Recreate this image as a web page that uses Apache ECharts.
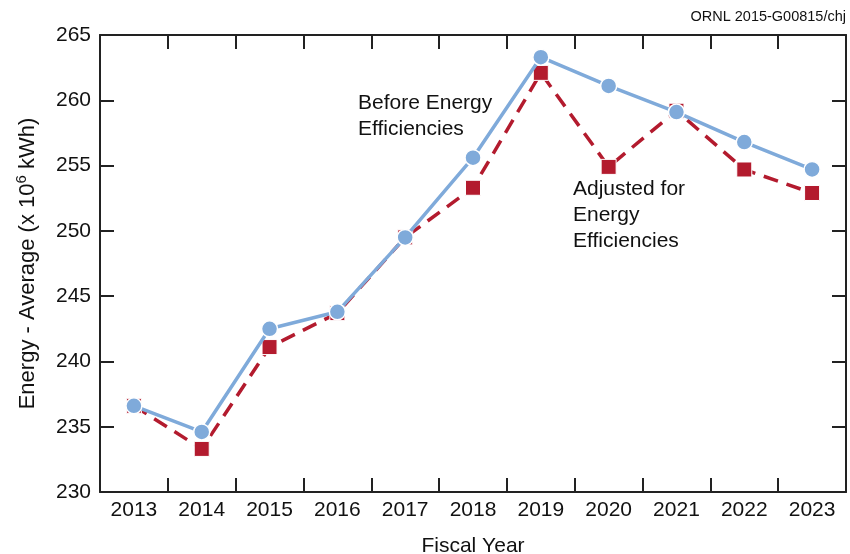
<!DOCTYPE html>
<html>
<head>
<meta charset="utf-8">
<script src="https://cdn.jsdelivr.net/npm/echarts@6/dist/echarts.min.js"></script>
<style>
  html, body { margin: 0; padding: 0; background: #fff; }
  #main { width: 850px; height: 554px; }
</style>
</head>
<body>
<div id="main"></div>
<script>
var years = ['2013', '2014', '2015', '2016', '2017', '2018', '2019', '2020', '2021', '2022', '2023'];
var beforeEff = [236.6, 234.6, 242.5, 243.8, 249.5, 255.6, 263.3, 261.1, 259.1, 256.8, 254.7];
var adjusted = [236.6, 233.3, 241.1, 243.7, 249.5, 253.3, 262.1, 254.9, 259.2, 254.7, 252.9];

var chart = echarts.init(document.getElementById('main'));
var FONT = 'Liberation Sans';
var axisLine = { show: true, lineStyle: { color: '#222', width: 2 } };
var tick = { show: true, inside: true, length: 14, lineStyle: { color: '#222', width: 2 } };

var option = {
    animation: false,
    textStyle: { fontFamily: FONT },
    grid: { left: 100, right: 4, top: 35, bottom: 62, containLabel: false, outerBoundsMode: 'none' },
    xAxis: [{
        type: 'category',
        data: years,
        boundaryGap: true,
        axisLine: axisLine,
        axisTick: tick,
        axisLabel: { color: '#111', fontSize: 21, margin: 8, fontFamily: FONT },
        name: 'Fiscal Year',
        nameLocation: 'middle',
        nameGap: 44,
        nameTextStyle: { color: '#111', fontSize: 21, fontFamily: FONT }
    }, {
        type: 'category',
        data: years,
        position: 'top',
        boundaryGap: true,
        axisLine: axisLine,
        axisTick: tick,
        axisLabel: { show: false }
    }],
    yAxis: [{
        type: 'value',
        min: 230, max: 265, interval: 5,
        axisLine: axisLine,
        axisTick: tick,
        splitLine: { show: false },
        axisLabel: { color: '#111', fontSize: 21, margin: 9, fontFamily: FONT },
        name: 'Energy - Average (x 10{sup|6} kWh)',
        nameLocation: 'middle',
        nameGap: 59,
        nameRotate: 90,
        nameTextStyle: {
            color: '#111', fontSize: 22, fontFamily: FONT,
            rich: { sup: { fontSize: 15, fontFamily: FONT, color: '#111', padding: [0, 0, 12, 0] } }
        }
    }, {
        type: 'value',
        position: 'right',
        min: 230, max: 265, interval: 5,
        axisLine: axisLine,
        axisTick: tick,
        splitLine: { show: false },
        axisLabel: { show: false }
    }],
    series: [{
        name: 'Adjusted for Energy Efficiencies',
        type: 'line',
        data: adjusted,
        symbol: 'rect',
        symbolSize: 15,
        itemStyle: { color: '#B31B2E', borderColor: '#fff', borderWidth: 1 },
        lineStyle: { color: '#B31B2E', width: 3.5, type: [15, 9] },
        z: 2
    }, {
        name: 'Before Energy Efficiencies',
        type: 'line',
        data: beforeEff,
        symbol: 'circle',
        symbolSize: 16,
        itemStyle: { color: '#7FAADA', borderColor: '#fff', borderWidth: 1.5 },
        lineStyle: { color: '#7FAADA', width: 3.5 },
        z: 3
    }],
    graphic: [{
        type: 'text', right: 4, top: 9,
        style: { text: 'ORNL 2015-G00815/chj', fontSize: 14.5, fill: '#111', fontFamily: FONT }
    }, {
        type: 'text', left: 358, top: 90,
        style: { text: 'Before Energy\nEfficiencies', fontSize: 21, lineHeight: 26, fill: '#111', fontFamily: FONT }
    }, {
        type: 'text', left: 573, top: 176,
        style: { text: 'Adjusted for\nEnergy\nEfficiencies', fontSize: 21, lineHeight: 26, fill: '#111', fontFamily: FONT }
    }]
};
chart.setOption(option);
</script>
</body>
</html>
